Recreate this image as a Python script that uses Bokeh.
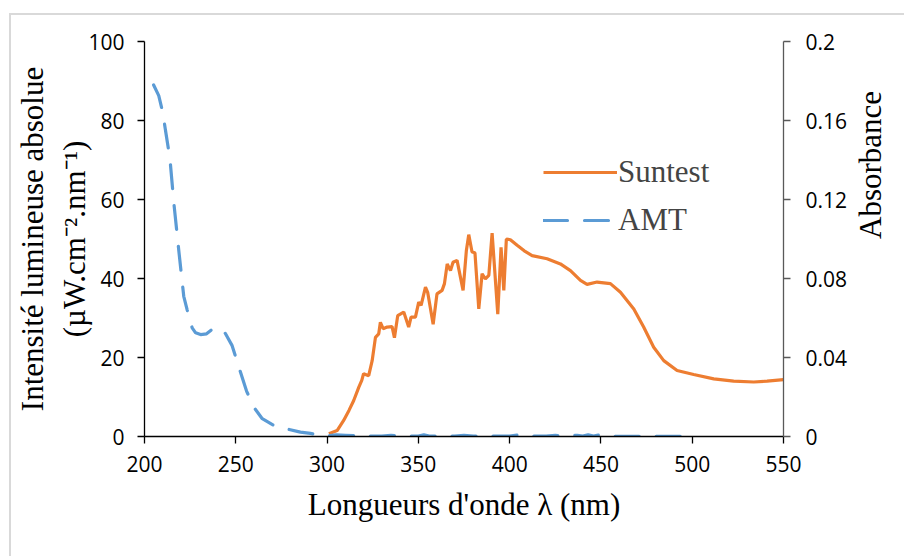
import math
from bokeh.plotting import figure
from bokeh.models import Range1d, LinearAxis, FixedTicker, Legend, LegendItem
from bokeh.embed import file_html
from bokeh.resources import INLINE

# Suntest spectrum (nm, µW.cm-2.nm-1)
sun_nm = [301, 305.5, 309, 312, 314.6, 317.4, 319, 320, 322.8, 324.7, 326.5, 328.3,
          329.2, 330.7, 332.9, 335.6, 336.9, 338.7, 342, 344.7, 346, 348.4, 350.2,
          351.5, 353.9, 355.1, 358.1, 360.2, 363, 364.3, 365.8, 367.6, 369, 371.2,
          374.5, 376.3, 377.6, 379.4, 381, 383.1, 384.9, 386.7, 388.6, 390.4, 393.5,
          395.3, 396.8, 398.2, 400.4, 404.1, 408, 412.3, 420.5, 427.8, 433.3, 438.8,
          442.4, 447.9, 455.2, 460.7, 468, 473.4, 478.9, 484.4, 491.7, 500.8, 511.8,
          522.7, 533.7, 541, 550]
sun_val = [0.7, 1.5, 4, 6.6, 9.1, 12.5, 14.2, 15.9, 15.4, 19.2, 25.1, 26,
           28.9, 27.3, 27.7, 27.8, 25, 30.6, 31.5, 27.7, 30.2, 30.2, 34,
           33.2, 37.8, 36.5, 28.4, 36.1, 37, 38.7, 43.7, 42, 44.1, 44.6,
           37, 47.1, 51.1, 46.7, 46.5, 32.3, 41.2, 39.9, 40.8, 51.5, 31,
           47.9, 37, 50, 49.8, 48.4, 47, 45.8, 45, 43.7, 42, 39.5,
           38.5, 39.1, 38.7, 36.5, 32.3, 27.7, 22.6, 19.2, 16.7, 15.7, 14.6,
           14, 13.8, 14, 14.4]

# AMT absorbance (nm, absorbance)
amt_nm = [205, 207.8, 210, 211.5, 213.9, 216.1, 218.8, 221.5, 223.4, 226.1, 228,
          230.7, 234, 238, 243.4, 248, 251.1, 255.9, 259.9, 264.5, 270.8, 278.1,
          285.4, 290.9, 295, 300, 305, 310, 315, 318, 322, 330, 335, 340, 350,
          353, 356, 370, 375, 380, 400, 405, 410, 420, 425, 430, 437, 440, 443,
          446, 449, 452, 460, 480, 500]
amt_abs = [0.178, 0.1726, 0.164, 0.155, 0.141, 0.118, 0.094, 0.071, 0.064, 0.055, 0.0525,
           0.0516, 0.052, 0.055, 0.0536, 0.046, 0.0368, 0.023, 0.0148, 0.009, 0.0056, 0.0038,
           0.0022, 0.0016, 0.0008, 0.0004, 0.0008, 0.0006, 0.0004, 0.0008, 0.0002, 0.0002,
           0.0006, 0.0002, 0.0002, 0.0008, 0.0002, 0.0002, 0.0006, 0.0002, 0.0002, 0.0008,
           0.0002, 0.0002, 0.0006, 0.0002, 0.0006, 0.0002, 0.0008, 0.0002, 0.0008, 0.0002,
           0.0001, 0.0001, 0.0001]

x_ticks = [200, 250, 300, 350, 400, 450, 500, 550]
left_ticks = [0, 20, 40, 60, 80, 100]
right_ticks = [0, 0.04, 0.08, 0.12, 0.16, 0.2]
right_labels = ["0", "0.04", "0.08", "0.12", "0.16", "0.2"]

TICK_FONT = "Open Sans"
TITLE_FONT = "Liberation Serif"

p = figure(width=893, height=541, frame_width=639, frame_height=395,
           x_range=Range1d(200, 550), y_range=Range1d(0, 100),
           output_backend="svg", toolbar_location=None,
           min_border_left=133, min_border_top=26, min_border_right=121, min_border_bottom=120)
p.extra_y_ranges = {"abs": Range1d(0, 0.2)}
p.margin = (13, 0, 0, 9)
p.styles = {"border-left": "2px solid #d9d9d9", "border-top": "2px solid #d9d9d9"}

p.xgrid.visible = False
p.ygrid.visible = False
p.outline_line_color = None
p.background_fill_color = "white"
p.border_fill_color = "white"

l1 = p.line(sun_nm, sun_val, line_color="#ED7D31", line_width=3.2)
l2 = p.line(amt_nm, amt_abs, y_range_name="abs", line_color="#5B9BD5", line_width=3.2,
            line_dash="24 17", line_cap="round")

xa = p.xaxis[0]
xa.ticker = FixedTicker(ticks=x_ticks)
xa.axis_label = "Longueurs d'onde λ (nm)"

ya = p.yaxis[0]
ya.ticker = FixedTicker(ticks=left_ticks)
ya.axis_label = "Intensité lumineuse absolue\n(µW.cm⁻².nm⁻¹)"

ra = LinearAxis(y_range_name="abs", ticker=FixedTicker(ticks=right_ticks))
ra.major_label_overrides = {t: s for t, s in zip(right_ticks, right_labels)}
p.add_layout(ra, "right")

for ax, col in ((xa, "#000000"), (ya, "#000000"), (ra, "#595959")):
    ax.axis_line_color = col
    ax.axis_line_width = 1.3
    ax.major_tick_line_color = col
    ax.major_tick_line_width = 1.3
    ax.major_tick_in = 0
    ax.major_tick_out = 7
    ax.minor_tick_line_color = None
    ax.major_label_text_font = TICK_FONT
    ax.major_label_text_font_size = "21px"
    ax.major_label_text_color = "#000000"
    ax.axis_label_text_font = TITLE_FONT
    ax.axis_label_text_font_size = "31px"
    ax.axis_label_text_font_style = "normal"
    ax.axis_label_text_color = "#000000"

xa.major_label_standoff = 12
xa.axis_label_standoff = 12
ya.major_label_standoff = 13
ya.axis_label_standoff = -7
ra.major_label_standoff = 15

# outer, otherwise invisible right axis that only carries the title "Absorbance",
# read bottom to top
ra2 = LinearAxis(y_range_name="abs", ticker=FixedTicker(ticks=[]),
                 axis_label="Absorbance", axis_label_orientation=math.pi / 2,
                 axis_line_color=None, major_tick_line_color=None, minor_tick_line_color=None,
                 major_tick_in=0, major_tick_out=0, axis_label_standoff=20,
                 axis_label_text_font=TITLE_FONT, axis_label_text_font_size="31px",
                 axis_label_text_font_style="normal", axis_label_text_color="#000000",
                 axis_label_text_align="center")
p.add_layout(ra2, "right")

legend = Legend(items=[LegendItem(label="Suntest", renderers=[l1]),
                       LegendItem(label="AMT", renderers=[l2])],
                location=(399, 198), border_line_color=None, background_fill_alpha=0,
                label_text_font=TITLE_FONT, label_text_font_size="31px",
                glyph_width=74, glyph_height=30, spacing=12, label_standoff=1)
p.add_layout(legend, "center")

open("out.html", "w").write(file_html(p, INLINE))
